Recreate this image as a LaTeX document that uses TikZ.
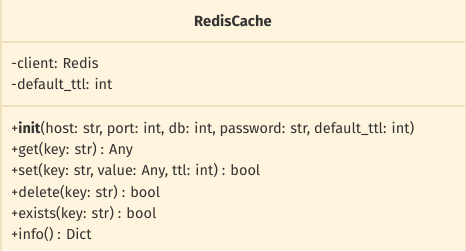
\documentclass[tikz,border=0pt]{standalone}
\usepackage{fontspec}
\setmainfont{Fira Sans}
\usepackage{tikz}
\usetikzlibrary{positioning}
\definecolor{boxfill}{HTML}{FFF4DD}
\definecolor{boxline}{HTML}{EFE0BF}
\definecolor{txt}{HTML}{333333}

\begin{document}
\begin{tikzpicture}[
x=1pt, y=-1pt,
  member/.style = {anchor=base west, inner sep=0pt, text=txt,
                   font=\fontsize{14.5}{17}\selectfont},
    title/.style = {anchor=base, inner sep=0pt, text=txt,
                   font=\fontsize{14.8}{17}\selectfont\bfseries}
                    ]
\useasboundingbox (0,0) rectangle (466,250);
% class box
\fill[boxfill] (0,0) rectangle (466,250);
\draw[boxline, line width=1.5pt] (0.75,-2) -- (0.75,252)
                                 (465.25,-2) -- (465.25,252);
\draw[boxline, line width=2pt] (0,41.5) -- (466,41.5)
                               (0,105.5) -- (466,105.5);
% name
\node (name) [title] at (233,26.7) {RedisCache};
% attributes
\node (client) [member] at (11,68) {-client: Redis};
\node (ttl)    [member] at (11,89.5) {-default\_ttl: int};
% methods
\node (init)   [member] at (11,133)   {+\textbf{init}(host: str, port: int, db: int, password: str, default\_ttl: int)};
\node (get)    [member] at (11,154.3) {+get(key: str) : Any};
\node (set)    [member] at (11,175.6) {+set(key: str, value: Any, ttl: int) : bool};
\node (delete) [member] at (11,197)   {+delete(key: str) : bool};
\node (exists) [member] at (11,218.3) {+exists(key: str) : bool};
\node (info)   [member] at (11,239.6) {+info() : Dict};
\end{tikzpicture}
\end{document}
